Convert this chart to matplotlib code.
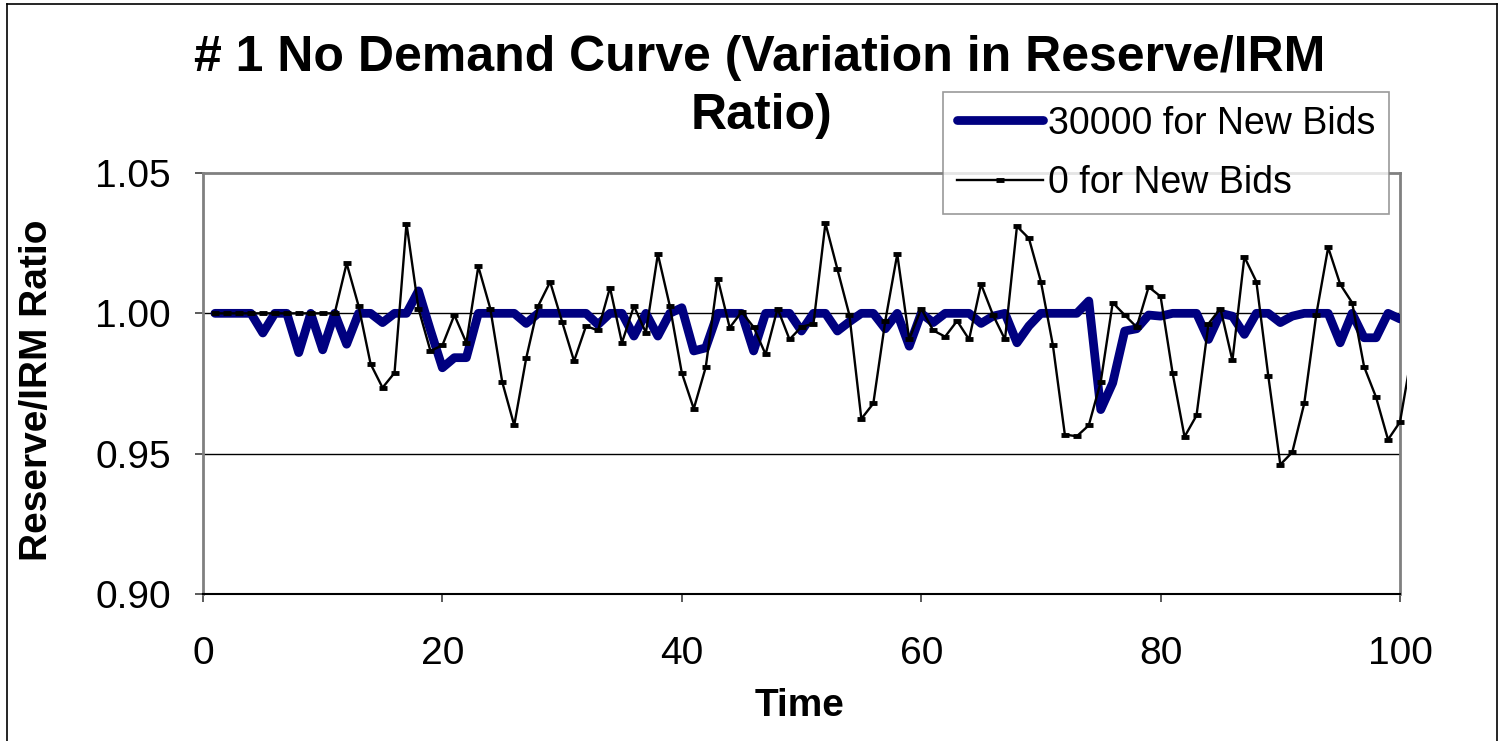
import matplotlib
matplotlib.use("Agg")
import matplotlib.pyplot as plt
from matplotlib.patches import Rectangle
from matplotlib.lines import Line2D

plt.rcParams['font.family'] = ['Liberation Sans', 'DejaVu Sans']

time_blue = list(range(1, 101))
bids_30000 = [1.000, 1.000, 1.000, 1.000, 0.993, 1.000, 1.000, 0.986, 1.000, 0.987,
              1.000, 0.989, 1.000, 1.000, 0.9967, 1.000, 1.000, 1.008, 0.994, 0.9806,
              0.9842, 0.9842, 1.000, 1.000, 1.000, 1.000, 0.9964, 1.000, 1.000, 1.000,
              1.000, 1.000, 0.996, 1.000, 1.000, 0.9919, 1.000, 0.9919, 1.000, 1.002,
              0.9866, 0.9877, 1.000, 1.000, 1.000, 0.9866, 1.000, 1.000, 1.000, 0.9937,
              1.000, 1.000, 0.9937, 0.997, 1.000, 1.000, 0.9945, 1.000, 0.9883, 1.000,
              0.9967, 1.000, 1.000, 1.000, 0.9964, 0.999, 1.000, 0.9895, 0.9955, 1.000,
              1.000, 1.000, 1.000, 1.0044, 0.9657, 0.9752, 0.9937, 0.9945, 0.9994, 0.999,
              1.000, 1.000, 1.000, 0.9907, 1.000, 0.999, 0.9925, 1.000, 1.000, 0.9967,
              0.999, 1.000, 1.000, 1.000, 0.9895, 1.000, 0.9913, 0.9913, 1.000, 0.998]

time_black = list(range(1, 102))
bids_0 = [1.000, 1.000, 1.000, 1.000, 1.000, 1.000, 1.000, 1.000, 1.000, 1.000,
          1.000, 1.0178, 1.0026, 0.982, 0.9735, 0.9788, 1.032, 1.0017, 0.9866, 0.9886,
          0.9994, 0.9895, 1.0167, 1.0017, 0.9755, 0.9601, 0.984, 1.0026, 1.0112, 0.997,
          0.983, 0.9955, 0.9939, 1.0092, 0.9895, 1.0026, 0.9931, 1.0211, 1.0026, 0.9788,
          0.966, 0.9808, 1.0124, 0.9949, 1.0005, 0.9951, 0.9854, 1.0017, 0.9907, 0.9952,
          0.9963, 1.0321, 1.0157, 0.9994, 0.9624, 0.9679, 0.9973, 1.0211, 0.9907, 1.0017,
          0.9939, 0.9917, 0.9973, 0.9907, 1.0104, 0.9994, 0.9907, 1.031, 1.0267, 1.0113,
          0.9887, 0.9568, 0.9562, 0.9601, 0.9756, 1.0038, 0.9994, 0.9951, 1.0094, 1.006,
          0.9788, 0.956, 0.9636, 0.9963, 1.0017, 0.9832, 1.0201, 1.0113, 0.9776, 0.9461,
          0.9505, 0.9679, 0.9994, 1.0235, 1.0104, 1.0038, 0.981, 0.9701, 0.955, 0.9613,
          0.986]

x_ticks = [0, 20, 40, 60, 80, 100]
y_ticks = [0.90, 0.95, 1.00, 1.05]
y_ticklabels = ["0.90", "0.95", "1.00", "1.05"]

title_lines = ["# 1 No Demand Curve (Variation in Reserve/IRM", "Ratio)"]
x_label = "Time"
y_label = "Reserve/IRM Ratio"
series_names = ["30000 for New Bids", "0 for New Bids"]

W, H = 1501, 741
fig = plt.figure(figsize=(W / 100, H / 100), dpi=100)

# outer chart border
fig.add_artist(Line2D([7 / W, 7 / W], [0, 1 - 4 / H], color='black', lw=1.2, transform=fig.transFigure))
fig.add_artist(Line2D([7 / W, 1497 / W], [1 - 4 / H, 1 - 4 / H], color='black', lw=1.2, transform=fig.transFigure))
fig.add_artist(Line2D([1497 / W, 1497 / W], [0, 1 - 4 / H], color='black', lw=1.2, transform=fig.transFigure))

left, right, top, bottom = 203, 1400, 173, 594
ax = fig.add_axes([left / W, 1 - bottom / H, (right - left) / W, (bottom - top) / H])

ax.plot(time_blue, bids_30000, color='#000080', lw=6.3, solid_capstyle='round',
        solid_joinstyle='round', zorder=3, label=series_names[0])
blk, = ax.plot(time_black, bids_0, color='black', lw=1.7, marker='_', markersize=6,
               markeredgewidth=3.5, zorder=4, label=series_names[1])
clip = Rectangle((0, 0), 1.006, 1, transform=ax.transAxes, facecolor='none')
blk.set_clip_path(clip)

ax.set_xlim(0, 100)
ax.set_ylim(0.90, 1.05)
ax.set_xticks(x_ticks)
ax.set_yticks(y_ticks)
ax.set_yticklabels(y_ticklabels)
for y in [0.95, 1.00]:
    ax.axhline(y, color='black', lw=1.0, zorder=1)

for s in ['left', 'top', 'right']:
    ax.spines[s].set_color('#808080')
    ax.spines[s].set_linewidth(2)
ax.spines['bottom'].set_color('black')
ax.spines['bottom'].set_linewidth(1.5)

ax.tick_params(axis='both', direction='out', length=6, width=1.2, colors='#404040',
               labelcolor='black', labelsize=28)
ax.tick_params(axis='x', pad=24)
ax.tick_params(axis='y', pad=17)

ax.set_xlabel(x_label, fontsize=28, fontweight='bold')
ax.set_ylabel(y_label, fontsize=28, fontweight='bold')
ax.xaxis.set_label_coords((800 - left) / (right - left), -(706 - bottom) / (bottom - top))
ax.xaxis.label.set_va('center')
ax.yaxis.set_label_coords((37 - left) / (right - left), (bottom - 390) / (bottom - top))
ax.yaxis.label.set_va('center')

fig.text(760 / W, 1 - 58 / H, title_lines[0], ha='center', va='center', fontsize=36,
         fontweight='bold')
fig.text(762 / W, 1 - 116 / H, title_lines[1], ha='center', va='center', fontsize=36,
         fontweight='bold')

leg = fig.legend(loc='upper left', bbox_to_anchor=(943 / W, 1 - 92 / H),
                 fontsize=27, frameon=True, fancybox=False, edgecolor='#808080',
                 handlelength=2.3, handletextpad=0.15, borderpad=0.36,
                 labelspacing=0.62, borderaxespad=0)
leg.get_frame().set_linewidth(1.2)

fig.savefig("out.png", dpi=100)
